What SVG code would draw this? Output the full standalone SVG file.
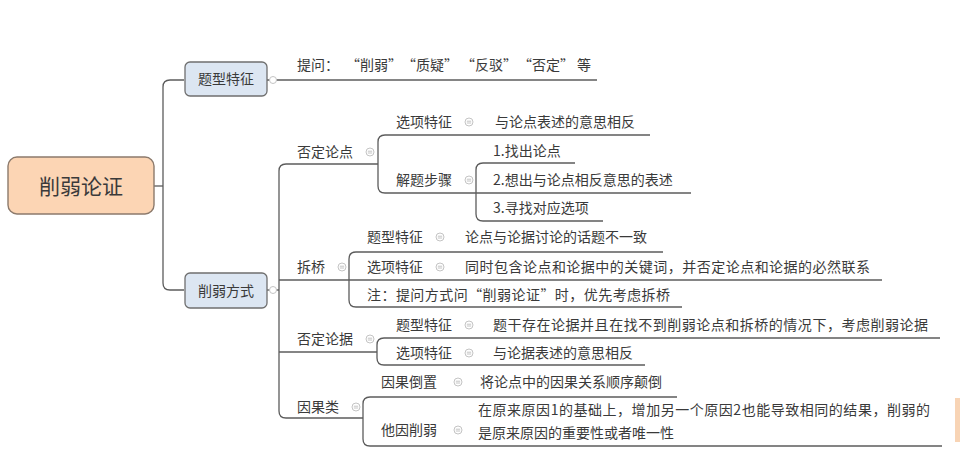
<svg xmlns="http://www.w3.org/2000/svg" width="960" height="454" viewBox="0 0 960 454">
<defs>
<style>
.t{font-family:"Noto Sans CJK SC","Noto Sans",sans-serif;font-size:14px;fill:#3a3a3a}
.c{text-anchor:middle}
.ln{fill:none;stroke:#5c5c5c;stroke-width:1.3}
.box{fill:#dce6f2;stroke:#6f6f6f;stroke-width:1.3}
.col{fill:#fff;stroke:#c4c4c4;stroke-width:1}
.mk{stroke:#c4c4c4;stroke-width:1}
</style>
<g id="fold"><circle class="col" cx="0" cy="0" r="4"/><line class="mk" x1="-2.2" y1="-0.8" x2="2.2" y2="-0.8"/><line class="mk" x1="-2.2" y1="1" x2="2.2" y2="1"/></g>
</defs>
<rect width="960" height="454" fill="#fff"/>
<rect x="955" y="398" width="5" height="44" fill="#f6c9a2" opacity="0.8"/>

<g id="connectors">
<path class="ln" d="M154,186 H163"/>
<path class="ln" d="M184,80 H170 Q163,80 163,87 V283 Q163,290 170,290 H184"/>
<path class="ln" d="M267,80 H597"/>
<path class="ln" d="M267,290 H279"/>
<path class="ln" d="M378,164 H286 Q279,164 279,171 V411 Q279,418 286,418 H363"/>
<path class="ln" d="M279,280 H349"/>
<path class="ln" d="M279,352 H377"/>
<path class="ln" d="M650,135 H385 Q378,135 378,142 V186 Q378,193 385,193 H691"/>
<path class="ln" d="M575,163 H483 Q476,163 476,170 V214 Q476,221 483,221 H603"/>
<path class="ln" d="M663,252 H356 Q349,252 349,259 V300 Q349,307 356,307 H682"/>
<path class="ln" d="M349,280 H882"/>
<path class="ln" d="M940,338 H384 Q377,338 377,345 V358 Q377,365 384,365 H645"/>
<path class="ln" d="M677,397 H370 Q363,397 363,404 V439 Q363,446 370,446 H942"/>
<circle class="col" cx="273" cy="80" r="3.5"/>
<circle class="col" cx="273" cy="290" r="3.5"/>
</g>

<g id="root">
<rect x="8" y="157" width="146" height="57" rx="9" fill="#fcd5b4" stroke="#8c7a6c" stroke-width="1.4"/>
<text class="t c" x="81" y="194" style="font-size:21px">削弱论证</text>
</g>

<g id="n-tixing">
<rect class="box" x="185" y="62" width="82" height="34" rx="5"/>
<text class="t c" x="226" y="84">题型特征</text>
</g>
<g id="n-tiwen">
<text class="t" x="297" y="70">提问：</text>
<text class="t" x="346" y="70">“削弱”</text>
<text class="t" x="402" y="70">“质疑”</text>
<text class="t" x="461" y="70">“反驳”</text>
<text class="t" x="518" y="70">“否定”</text>
<text class="t" x="577" y="70">等</text>
</g>

<g id="n-xueruo">
<rect class="box" x="185" y="273" width="82" height="35" rx="5"/>
<text class="t c" x="226" y="296">削弱方式</text>
</g>

<g id="n-fdld">
<text class="t" x="297" y="157">否定论点</text>
<use href="#fold" x="370" y="152"/>
</g>
<g id="n-fdld-xx">
<text class="t" x="396" y="127">选项特征</text>
<use href="#fold" x="469" y="122"/>
<text class="t" x="495" y="127">与论点表述的意思相反</text>
</g>
<g id="n-fdld-jt">
<text class="t" x="396" y="185">解题步骤</text>
<use href="#fold" x="469" y="180"/>
<text class="t" x="493" y="156">1.找出论点</text>
<text class="t" x="493" y="185">2.想出与论点相反意思的表述</text>
<text class="t" x="493" y="213">3.寻找对应选项</text>
</g>

<g id="n-cq">
<text class="t" x="297" y="272">拆桥</text>
<use href="#fold" x="342" y="267"/>
</g>
<g id="n-cq-tx">
<text class="t" x="367" y="242">题型特征</text>
<use href="#fold" x="440" y="237"/>
<text class="t" x="465" y="242">论点与论据讨论的话题不一致</text>
</g>
<g id="n-cq-xx">
<text class="t" x="367" y="272">选项特征</text>
<use href="#fold" x="440" y="267"/>
<text class="t" x="465" y="272" textLength="405">同时包含论点和论据中的关键词，并否定论点和论据的必然联系</text>
</g>
<g id="n-cq-zhu">
<text class="t" x="367" y="300" textLength="303">注：提问方式问“削弱论证”时，优先考虑拆桥</text>
</g>

<g id="n-fdlj">
<text class="t" x="297" y="344">否定论据</text>
<use href="#fold" x="370" y="339"/>
</g>
<g id="n-fdlj-tx">
<text class="t" x="396" y="330">题型特征</text>
<use href="#fold" x="469" y="325"/>
<text class="t" x="493" y="330" textLength="435">题干存在论据并且在找不到削弱论点和拆桥的情况下，考虑削弱论据</text>
</g>
<g id="n-fdlj-xx">
<text class="t" x="396" y="358">选项特征</text>
<use href="#fold" x="469" y="353"/>
<text class="t" x="493" y="358">与论据表述的意思相反</text>
</g>

<g id="n-yg">
<text class="t" x="297" y="412">因果类</text>
<use href="#fold" x="356" y="407"/>
</g>
<g id="n-yg-dz">
<text class="t" x="381" y="387">因果倒置</text>
<use href="#fold" x="458" y="382"/>
<text class="t" x="480" y="387">将论点中的因果关系顺序颠倒</text>
</g>
<g id="n-yg-ty">
<text class="t" x="381" y="435">他因削弱</text>
<use href="#fold" x="458" y="430"/>
<text class="t" x="478" y="415" textLength="452">在原来原因1的基础上，增加另一个原因2也能导致相同的结果，削弱的</text>
<text class="t" x="478" y="438">是原来原因的重要性或者唯一性</text>
</g>
</svg>
